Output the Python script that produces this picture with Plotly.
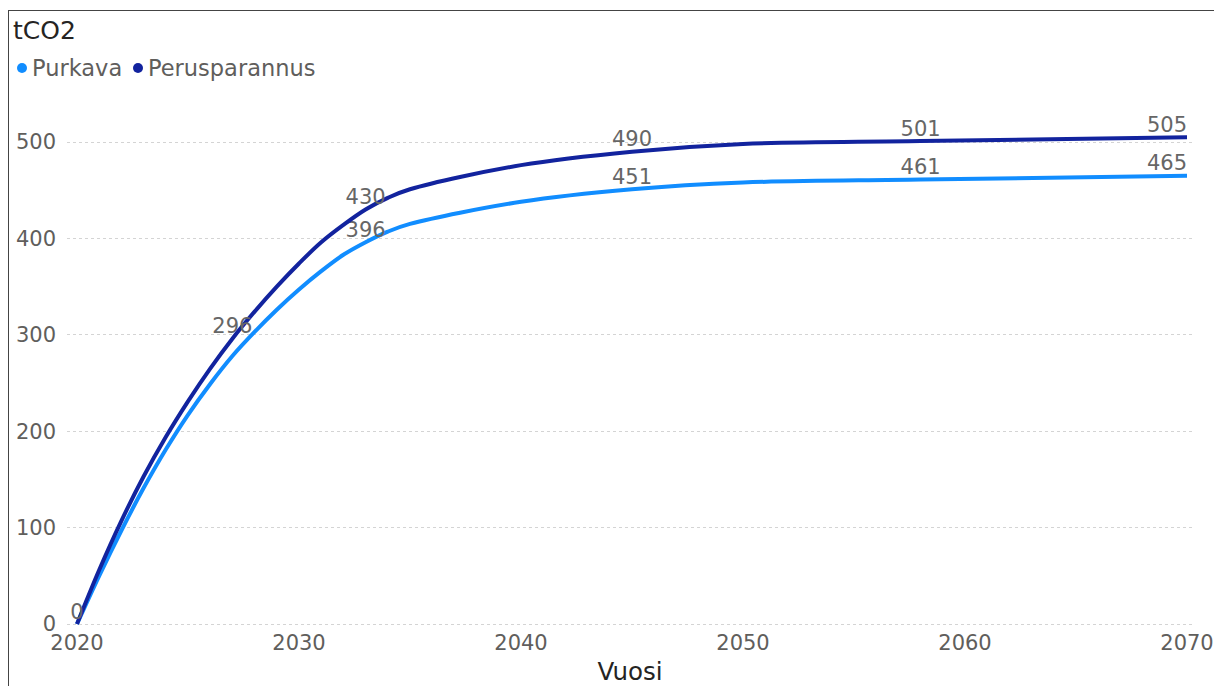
import plotly.graph_objects as go

years = [2020, 2021, 2022, 2023, 2024, 2025, 2026, 2027, 2028, 2029, 2030, 2031, 2032, 2033,
         2034, 2035, 2040, 2045, 2050, 2058, 2070]
purkava = [0, 50, 97, 141, 181, 217, 249, 278, 303, 326, 347, 366, 383, 396,
           407, 415, 438, 451, 458, 461, 465]
perusparannus = [0, 56, 107, 153, 194, 231, 265, 296, 324, 350, 374, 396, 414, 430,
                 442, 451, 476, 490, 498, 501, 505]

label_years_purkava = [2033, 2045, 2058, 2070]
label_years_perus = [2020, 2027, 2033, 2045, 2058, 2070]

series_names = ["Purkava", "Perusparannus"]
colors = ["#118DFF", "#12239E"]

W, H = 1214, 686
L, R, T, B = 67, 21, 100, 58
pw, ph = W - L - R, H - T - B

def px_x(p):
    return (p - L) / pw

def px_y(p):
    return (H - B - p) / ph

fig = go.Figure()
positions = ["top left" if yr == years[-1] else "top center" for yr in years]
for name, vals, lab_years, col in [
    (series_names[0], purkava, label_years_purkava, colors[0]),
    (series_names[1], perusparannus, label_years_perus, colors[1]),
]:
    labs = [str(v) if yr in lab_years else "" for yr, v in zip(years, vals)]
    fig.add_trace(go.Scatter(
        x=years, y=vals, name=name, mode="lines+text",
        line=dict(color=col, width=4, shape="spline", smoothing=1.0),
        text=labs, textposition=positions,
        textfont=dict(family="DejaVu Sans", size=21, color="#666666"),
        cliponaxis=False, showlegend=False,
    ))

y_per = 0.964
ymin = -(H - B - 624) / y_per
ymax = ymin + ph / y_per

fig.update_layout(
    width=W, height=H,
    margin=dict(l=L, r=R, t=T, b=B, autoexpand=False),
    paper_bgcolor="white", plot_bgcolor="white",
    font=dict(family="DejaVu Sans", size=21, color="#605E5C"),
    xaxis=dict(
        range=[2019.55, 2070.27], tickmode="array",
        tickvals=[2020, 2030, 2040, 2050, 2060, 2070],
        ticktext=["2020", "2030", "2040", "2050", "2060", "2070"],
        showgrid=False, zeroline=False, showline=False, ticks="",
        automargin=False,
        tickfont=dict(size=21, color="#605E5C"),
        title=dict(text="Vuosi", font=dict(size=24.5, color="#252423"), standoff=10),
    ),
    yaxis=dict(
        range=[ymin, ymax], tickmode="array",
        tickvals=[0, 100, 200, 300, 400, 500],
        ticktext=["0", "100", "200", "300", "400", "500"],
        showgrid=True, gridcolor="#D4D4D4", griddash="dot", gridwidth=1,
        zeroline=False, showline=False, ticks="", automargin=False,
        ticklabelstandoff=10,
        tickfont=dict(size=21, color="#605E5C"),
    ),
    showlegend=False,
)

fig.add_annotation(x=px_x(11), y=px_y(30), xref="paper", yref="paper",
                   text="tCO2", showarrow=False, xanchor="left", yanchor="middle",
                   font=dict(size=25, color="#252423"))
leg = [(22, 30, series_names[0], colors[0]), (138, 146, series_names[1], colors[1])]
for dx, tx, name, col in leg:
    fig.add_shape(type="circle", xref="paper", yref="paper",
                  x0=px_x(dx - 5), x1=px_x(dx + 5), y0=px_y(68 + 5), y1=px_y(68 - 5),
                  fillcolor=col, line=dict(width=0))
    fig.add_annotation(x=px_x(tx), y=px_y(68), xref="paper", yref="paper",
                       text=name, showarrow=False, xanchor="left", yanchor="middle",
                       font=dict(size=22.5, color="#605E5C"))
fig.add_shape(type="line", xref="paper", yref="paper",
              x0=px_x(8.5), x1=px_x(8.5), y0=px_y(10), y1=px_y(700),
              line=dict(color="#444444", width=1))
fig.add_shape(type="line", xref="paper", yref="paper",
              x0=px_x(8.5), x1=px_x(1230), y0=px_y(10.5), y1=px_y(10.5),
              line=dict(color="#444444", width=1))

fig.write_html("out.html")
